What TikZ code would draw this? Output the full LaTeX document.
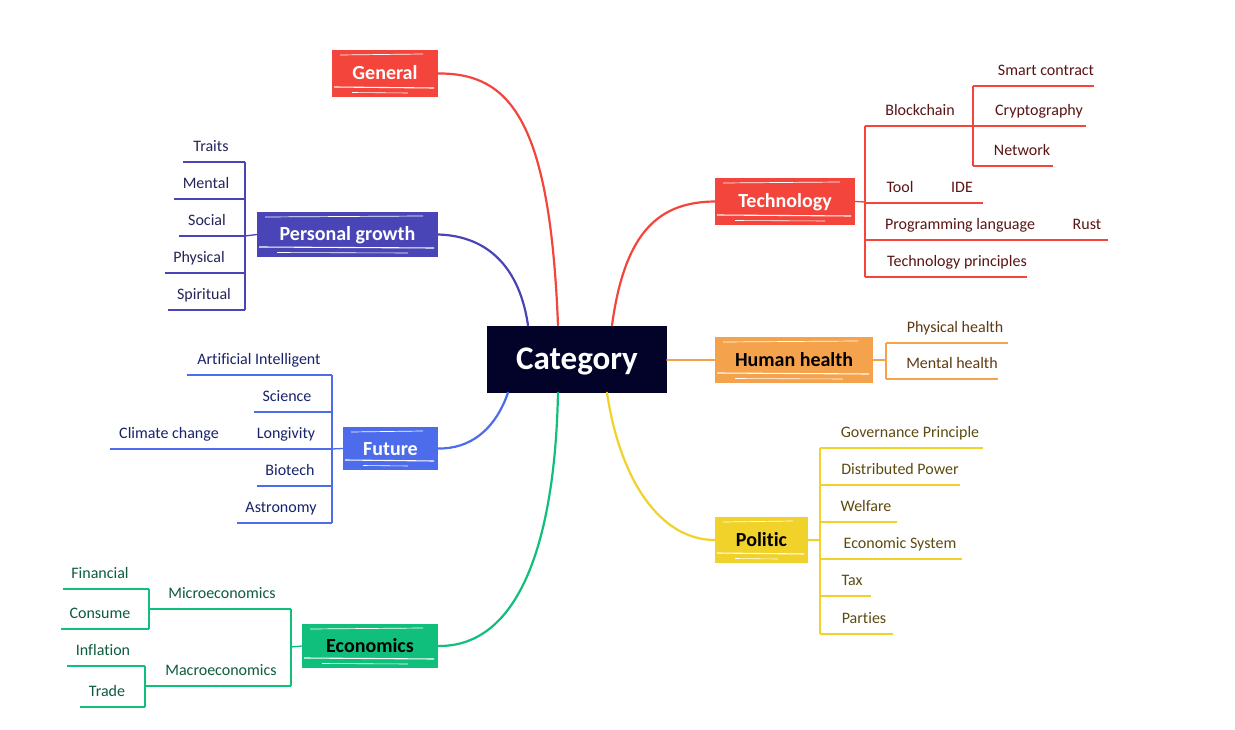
\documentclass[tikz,border=0pt]{standalone}
\usepackage{fontspec}
\setmainfont{Carlito}[Ligatures=NoCommon]
\definecolor{cRed}{HTML}{F4453D}
\definecolor{cInd}{HTML}{4A45B6}
\definecolor{cBlu}{HTML}{4C6CEB}
\definecolor{cGrn}{HTML}{10BF7C}
\definecolor{cOra}{HTML}{F5A24D}
\definecolor{cYel}{HTML}{F0D22A}
\definecolor{cDark}{HTML}{03032A}
\definecolor{tRed}{HTML}{5A1414}
\definecolor{tInd}{HTML}{25245A}
\definecolor{tBlu}{HTML}{18236A}
\definecolor{tGrn}{HTML}{0D5C3D}
\definecolor{tOra}{HTML}{5E3A12}
\definecolor{tYel}{HTML}{5C4B10}
\tikzset{
  brush/.style={fill=#1, draw=none, inner sep=0pt, text height=13pt, text depth=0pt, font=\fontsize{20}{22}\selectfont\bfseries,
    path picture={
      \draw[white, line width=0.7pt] ([xshift=8pt,yshift=-5pt]path picture bounding box.north west) -- ([xshift=-15pt,yshift=-4pt]path picture bounding box.north east);
      \draw[white, line width=1.1pt] ([xshift=2pt,yshift=10pt]path picture bounding box.south west) -- ([xshift=-4pt,yshift=9pt]path picture bounding box.south east);
      \draw[white, line width=0.6pt] ([xshift=20pt,yshift=4.5pt]path picture bounding box.south west) -- ([xshift=-30pt,yshift=4pt]path picture bounding box.south east);
    }},
  conn/.style={line width=2.2pt, line cap=round},
  leaf/.style={inner sep=0pt, text height=11pt, text depth=10.5pt, anchor=south, font=\fontsize{16}{18}\selectfont},
  uline/.style={line width=1.3pt},
}
\begin{document}
\begin{tikzpicture}[x=1pt,y=-1pt]
\useasboundingbox (0,0) rectangle (1235,730);
\fill[white] (0,0) rectangle (1235,730);

% central
\node[fill=cDark, text=white, minimum width=180pt, minimum height=67pt, inner sep=0pt, text height=21pt, text depth=0pt, font=\fontsize{33}{36}\selectfont\bfseries] (cat) at (577,359) {Category};

% main nodes
\node[brush=cRed, text=white, minimum width=106pt, minimum height=47pt] (gen) at (385,73.5) {General};
\node[brush=cInd, text=white, minimum width=181pt, minimum height=45pt] (pg) at (347.5,234.5) {Personal growth};
\node[brush=cBlu, text=white, minimum width=95pt, minimum height=43pt] (fut) at (390.5,448.5) {Future};
\node[brush=cGrn, text=black, minimum width=136pt, minimum height=44pt] (eco) at (370,646) {Economics};
\node[brush=cRed, text=white, minimum width=140pt, minimum height=47pt] (tech) at (785,201.5) {Technology};
\node[brush=cOra, text=black, minimum width=158pt, minimum height=46pt] (hh) at (794,360) {Human health};
\node[brush=cYel, text=black, minimum width=93pt, minimum height=46pt] (pol) at (761.5,540) {Politic};

% main connectors
\draw[conn, cRed] ([xshift=-19pt]cat.north) .. controls (550,120) and (510,73) .. (gen.east);
\draw[conn, cInd] ([xshift=-49pt]cat.north) .. controls (520,270) and (490,236) .. (pg.east);
\draw[conn, cBlu] ([xshift=-69pt]cat.south) .. controls (495,430) and (470,449) .. (fut.east);
\draw[conn, cGrn] ([xshift=-19pt]cat.south) .. controls (555,540) and (520,647) .. (eco.east);
\draw[conn, cRed] ([xshift=35pt]cat.north) .. controls (625,230) and (660,202) .. (tech.west);
\draw[conn, cOra] (cat.east |- hh.west) -- (hh.west);
\draw[conn, cYel] ([xshift=30pt]cat.south) .. controls (620,480) and (660,540) .. (pol.west);

% ---------- Personal growth ----------
\begin{scope}[color=cInd]
\coordinate (pgb) at (245,236);
\node[leaf, text=tInd, minimum width=56pt] (traits) at (211,162) {Traits};
\node[leaf, text=tInd, minimum width=64pt] (mental) at (206,199) {Mental};
\node[leaf, text=tInd, minimum width=56pt] (social) at (207,236) {Social};
\node[leaf, text=tInd, minimum width=68pt] (physical) at (199,273) {Physical};
\node[leaf, text=tInd, minimum width=72pt] (spiritual) at (204,310) {Spiritual};
\foreach \n in {traits,mental,social,physical,spiritual}
  \draw[uline] (\n.south west) -- (\n.south west -| pgb);
\draw[uline] (pgb |- traits.south) -- (pgb |- spiritual.south);
\draw[uline] (pgb) -- (pg.west);
\end{scope}

% ---------- Future ----------
\begin{scope}[color=cBlu]
\coordinate (fb) at (332,449);
\node[leaf, text=tBlu, minimum width=144pt] (ai) at (259,375) {Artificial Intelligent};
\node[leaf, text=tBlu, minimum width=66pt] (sci) at (287,412) {Science};
\node[leaf, text=tBlu, minimum width=76pt] (lon) at (286,449) {Longivity};
\node[leaf, text=tBlu, minimum width=118pt] (cli) at (169,449) {Climate change};
\node[leaf, text=tBlu, minimum width=66pt] (bio) at (290,486) {Biotech};
\node[leaf, text=tBlu, minimum width=88pt] (ast) at (281,523) {Astronomy};
\foreach \n in {ai,sci,cli,bio,ast}
  \draw[uline] (\n.south west) -- (\n.south west -| fb);
\draw[uline] (fb |- ai.south) -- (fb |- ast.south);
\draw[uline] (fb) -- (fut.west);
\end{scope}

% ---------- Economics ----------
\begin{scope}[color=cGrn]
\coordinate (eb) at (291,647);
\coordinate (mib) at (149,609);
\coordinate (mab) at (145,686);
\node[leaf, text=tGrn, minimum width=122pt] (micro) at (222,609) {Microeconomics};
\node[leaf, text=tGrn, minimum width=132pt] (macro) at (221,686) {Macroeconomics};
\node[leaf, text=tGrn, minimum width=74pt] (fin) at (100,589) {Financial};
\node[leaf, text=tGrn, minimum width=78pt] (cons) at (100,629) {Consume};
\node[leaf, text=tGrn, minimum width=72pt] (infl) at (103,666) {Inflation};
\node[leaf, text=tGrn, minimum width=54pt] (trade) at (107,707) {Trade};
\draw[uline] (mib) -- (mib -| eb);
\draw[uline] (mab) -- (mab -| eb);
\draw[uline] (eb |- micro.south) -- (eb |- macro.south);
\draw[uline] (eb) -- (eco.west);
\foreach \n in {fin,cons}
  \draw[uline] (\n.south west) -- (\n.south west -| mib);
\foreach \n in {infl,trade}
  \draw[uline] (\n.south west) -- (\n.south west -| mab);
\draw[uline] (mib |- fin.south) -- (mib |- cons.south);
\draw[uline] (mab |- infl.south) -- (mab |- trade.south);
\end{scope}

% ---------- Technology ----------
\begin{scope}[color=cRed]
\coordinate (tb) at (865,202);
\coordinate (bcb) at (973,126);
\node[leaf, text=tRed, minimum width=80pt] (block) at (920,126) {Blockchain};
\node[leaf, text=tRed, minimum width=94pt] (smart) at (1046,86) {Smart contract};
\node[leaf, text=tRed, minimum width=94pt] (crypt) at (1039,126) {Cryptography};
\node[leaf, text=tRed, minimum width=62pt] (net) at (1022,166) {Network};
\node[leaf, text=tRed, minimum width=30pt] (tool) at (900,203) {Tool};
\node[leaf, text=tRed, minimum width=42pt] (ide) at (962,203) {IDE};
\node[leaf, text=tRed, minimum width=150pt] (prog) at (960,240) {Programming language};
\node[leaf, text=tRed, minimum width=42pt] (rust) at (1087,240) {Rust};
\node[leaf, text=tRed, minimum width=140pt] (tp) at (957,277) {Technology principles};
\draw[uline] (tech.east) -- (tb);
\draw[uline] (tb |- block.south) -- (tb |- tp.south);
\draw[uline] (tb |- block.south) -- (bcb);
\draw[uline] (bcb |- smart.south) -- (bcb |- net.south);
\foreach \n in {smart,crypt,net}
  \draw[uline] (bcb |- \n.south) -- (\n.south east);
\draw[uline] (tb |- ide.south) -- (ide.south east);
\draw[uline] (tb |- rust.south) -- (rust.south east);
\draw[uline] (tb |- tp.south) -- (tp.south east);
\end{scope}

% ---------- Human health ----------
\begin{scope}[color=cOra]
\coordinate (hb) at (886,360);
\node[leaf, text=tOra, minimum width=106pt] (phh) at (955,343) {Physical health};
\node[leaf, text=tOra, minimum width=92pt] (meh) at (952,379) {Mental health};
\draw[uline] (hh.east) -- (hb);
\draw[uline] (hb |- phh.south) -- (hb |- meh.south);
\foreach \n in {phh,meh}
  \draw[uline] (hb |- \n.south) -- (\n.south east);
\end{scope}

% ---------- Politic ----------
\begin{scope}[color=cYel]
\coordinate (plb) at (820,540);
\node[leaf, text=tYel, minimum width=146pt] (gov) at (910,448) {Governance Principle};
\node[leaf, text=tYel, minimum width=120pt] (dist) at (900,485) {Distributed Power};
\node[leaf, text=tYel, minimum width=62pt] (wel) at (866,522) {Welfare};
\node[leaf, text=tYel, minimum width=124pt] (ecs) at (900,559) {Economic System};
\node[leaf, text=tYel, minimum width=38pt] (tax) at (852,596) {Tax};
\node[leaf, text=tYel, minimum width=58pt] (par) at (864,634) {Parties};
\draw[uline] (pol.east) -- (plb);
\draw[uline] (plb |- gov.south) -- (plb |- par.south);
\foreach \n in {gov,dist,wel,ecs,tax,par}
  \draw[uline] (plb |- \n.south) -- (\n.south east);
\end{scope}
\end{tikzpicture}
\end{document}
